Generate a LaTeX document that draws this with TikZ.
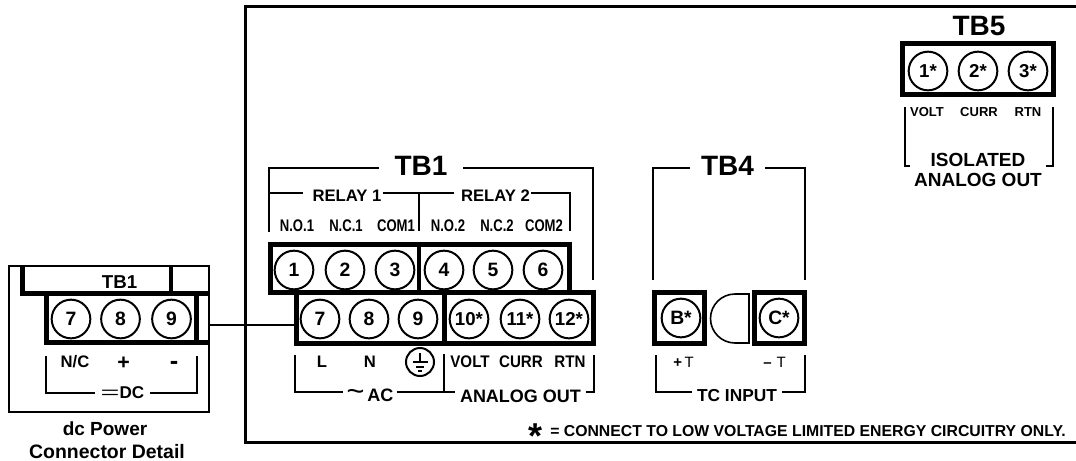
\documentclass[tikz,border=0pt]{standalone}
\usepackage{fontspec}
\setmainfont{Liberation Sans}
\newfontfamily\pinfont[FakeStretch=0.78]{Liberation Sans}
\newfontfamily\endfont[FakeStretch=0.9]{Liberation Sans}
\usepackage{tikz}
\usetikzlibrary{positioning}

\newcommand{\fsz}[1]{\fontsize{#1}{#1}\selectfont\bfseries}

\begin{document}
\begin{tikzpicture}[
        x=0.75pt, y=-0.75pt,
        terminal/.style={draw, circle, line width=1.5pt, minimum size=29pt, inner sep=0pt, font=\fsz{14.5}},
        starred/.style={terminal, font=\fsz{14}},
        blockbox/.style={draw, rectangle, line width=3.75pt, inner sep=0pt, fill=white},
        thickline/.style={line width=3.6pt},
        bracket/.style={line width=1.5pt},
        wire/.style={line width=1.5pt},
        title/.style={font=\fsz{21}, inner sep=0pt, text depth=2.5pt},
        pinlabel/.style={font=\fsz{9.75}, inner sep=0pt},
        relaypin/.style={font=\pinfont\fsz{12.6}, inner sep=0pt},
        endlabel/.style={font=\fsz{12.5}, inner sep=0pt},
        outlabel/.style={font=\endfont\fsz{12.6}, inner sep=0pt},
        groupname/.style={font=\fsz{13.5}, inner sep=0pt}
      ]
        \useasboundingbox (0,0) rectangle (1076,461);

        % instrument frame, open on the right
        \draw[line width=1.6pt] (1076,6.5) -- (245.5,6.5) -- (245.5,442.5) -- (1076,442.5);

        % dc power connector detail
        \node[draw, rectangle, line width=1.9pt, minimum width=150pt, minimum height=109.5pt, inner sep=0pt] (detailbox) at (109,339) {};
        \draw[thickline] (22.5,266) -- (22.5,293.5) -- (209,293.5);
        \draw[thickline] (171,266) -- (171,293.5);
        \draw[thickline] (46.5,293.5) -- (46.5,342.5) -- (209,342.5);
        \draw[thickline] (196.5,293.5) -- (196.5,342.5);
        \node[font=\fsz{14}, inner sep=0pt] (detailtitle) at (119.5,282) {TB1};
        \node[terminal] (detailseven) at (71,319) {7};
        \node[terminal] (detaileight) at (120.5,319) {8};
        \node[terminal] (detailnine) at (171.5,319) {9};
        \node[endlabel] (detailnc) at (75,362) {N/C};
        \node[endlabel, font=\fsz{16}] (detailplus) at (123.5,363) {+};
        \node[endlabel, font=\fsz{19}] (detailminus) at (174,365) {-};
        \node[groupname, font=\fsz{12.8}, minimum width=41.25pt, minimum height=14pt] (dclabel) at (122.5,392.5) {\scalebox{1.9}[1]{\mdseries=}DC};
        \coordinate (dcleft) at (46,356);
        \coordinate (dcright) at (196.5,356);
        \draw[bracket] (dcleft) |- (dclabel.west);
        \draw[bracket] (dclabel.east) -| (dcright);
        \node[font=\fsz{14.25}, inner sep=0pt] (detailname) at (105,429) {dc Power};
        \node[font=\fsz{14.6}, inner sep=0pt] (detailnametwo) at (107,452) {Connector Detail};

        % TB1 upper row
        \node[title, minimum width=63pt] (tbone) at (421,167.5) {TB1};
        \coordinate (tboneleft) at (269,232);
        \coordinate (tboneright) at (593,280);
        \draw[bracket] (tboneleft) |- (tbone.west);
        \draw[bracket] (tbone.east) -| (tboneright);

        \node[font=\fsz{12.5}, inner sep=0.75pt, text height=12.6pt, text depth=0pt] (relayone) at (347,193) {RELAY 1};
        \node[font=\fsz{12.5}, inner sep=0.75pt, text height=12.6pt, text depth=0pt] (relaytwo) at (495.5,193) {RELAY 2};
        \coordinate (relayleft) at (269,193);
        \coordinate (relaymid) at (419,193);
        \coordinate (relaymidlow) at (419,231);
        \coordinate (relayright) at (570,231);
        \draw[bracket, shorten >=6pt] (relayleft) -- (relayone.west);
        \draw[bracket, shorten >=4pt] (relayone.east) -- (relaytwo.west);
        \draw[bracket] (relaymid) -- (relaymidlow);
        \draw[bracket] (relaytwo.east) -| (relayright);

        \node[relaypin] (labelnoone) at (297,226) {N.O.1};
        \node[relaypin] (labelncone) at (346,226) {N.C.1};
        \node[relaypin] (labelcomone) at (396,226) {COM1};
        \node[relaypin] (labelnotwo) at (448,226) {N.O.2};
        \node[relaypin] (labelnctwo) at (497,226) {N.C.2};
        \node[relaypin] (labelcomtwo) at (544,226) {COM2};

        % TB1 lower row, drawn first
        \node[blockbox, minimum width=222.4pt, minimum height=37.9pt] (lowerblock) at (444.75,317.75) {};
        \node[blockbox, minimum width=223.8pt, minimum height=36pt] (upperblock) at (420,268.2) {};
        \draw[thickline] (419,244) -- (419,293);
        \draw[thickline] (444.5,293) -- (444.5,343);

        \node[terminal] (termone) at (294,270) {1};
        \node[terminal] (termtwo) at (345,270) {2};
        \node[terminal] (termthree) at (395,270) {3};
        \node[terminal] (termfour) at (444,270) {4};
        \node[terminal] (termfive) at (493,270) {5};
        \node[terminal] (termsix) at (543,270) {6};

        \node[terminal] (termseven) at (320,319) {7};
        \node[terminal] (termeight) at (369,319) {8};
        \node[terminal] (termnine) at (418,319) {9};
        \node[starred] (termten) at (469,319) {10*};
        \node[starred] (termeleven) at (520,319) {11*};
        \node[starred] (termtwelve) at (569,319) {12*};

        \coordinate (wirey) at (0,325);
        \draw[wire] (detailbox.east |- wirey) -- (lowerblock.west |- wirey);

        \node[endlabel] (labell) at (322,362) {L};
        \node[endlabel] (labeln) at (370,362) {N};
        \node[draw, circle, line width=1.5pt, minimum size=21pt, inner sep=0pt] (groundsym) at (420,362) {};
        \draw[line width=1pt] (420,353) -- (420,362);
        \draw[line width=1pt] (413,362) -- (428,362);
        \draw[line width=1pt] (416,367) -- (424,367);
        \draw[line width=1pt] (418,371) -- (422,371);
        \node[outlabel] (labelvolt) at (470,362) {VOLT};
        \node[outlabel] (labelcurr) at (521,362) {CURR};
        \node[outlabel] (labelrtn) at (570,362) {RTN};

        \node[groupname, minimum width=40.5pt, text height=14.6pt, text depth=0pt] (aclabel) at (370,392) {\scalebox{1.7}{\mdseries\char`\~}\,AC};
        \node[groupname, minimum width=97.5pt, text height=15pt, text depth=0pt] (analoglabel) at (520.5,392) {ANALOG OUT};
        \coordinate (acleft) at (295,355);
        \coordinate (acmid) at (444,354);
        \coordinate (acmidlow) at (444,392);
        \coordinate (analogright) at (594,355);
        \draw[bracket] (acleft) |- (aclabel.west);
        \draw[bracket] (aclabel.east) -- (analoglabel.west);
        \draw[bracket] (acmid) -- (acmidlow);
        \draw[bracket] (analoglabel.east) -| (analogright);

        % TB4
        \node[title, minimum width=56.25pt] (tbfour) at (727.5,167.5) {TB4};
        \coordinate (tbfourleft) at (653,280);
        \coordinate (tbfourright) at (805,280);
        \draw[bracket] (tbfourleft) |- (tbfour.west);
        \draw[bracket] (tbfour.east) -| (tbfourright);

        \node[blockbox, minimum width=37.5pt, minimum height=38pt] (blockb) at (679.5,318) {};
        \node[blockbox, minimum width=37.5pt, minimum height=38pt] (blockc) at (779.5,318) {};
        \node[terminal] (termb) at (681,318) {B*};
        \node[terminal] (termc) at (779,318) {C*};
        \draw[line width=1.2pt] (749,294) -- (735,294) arc[start angle=270, end angle=90, radius=24.5] -- (749,343) -- cycle;

        \node[endlabel, font=\fsz{11.25}] (labelplust) at (683.5,362) {+\,\mdseries T};
        \node[endlabel, font=\fsz{11.25}] (labelminust) at (774.5,362) {–\,\,\mdseries T};
        \node[groupname, minimum width=67.5pt, font=\fsz{13}, text height=13.5pt, text depth=0pt] (tclabel) at (737,392) {TC INPUT};
        \coordinate (tcleft) at (656,355);
        \coordinate (tcright) at (805,355);
        \draw[bracket] (tcleft) |- (tclabel.west);
        \draw[bracket] (tclabel.east) -| (tcright);

        % TB5
        \node[title, text depth=0pt] (tbfive) at (979,26) {TB5};
        \node[blockbox, minimum width=113.25pt, minimum height=38.25pt] (blockfive) at (978,69) {};
        \node[starred] (termfiveone) at (928,71) {1*};
        \node[starred] (termfivetwo) at (978,71) {2*};
        \node[starred] (termfivethree) at (1028,71) {3*};
        \node[pinlabel] (labelvoltfive) at (927,112) {VOLT};
        \node[pinlabel] (labelcurrfive) at (979,112) {CURR};
        \node[pinlabel] (labelrtnfive) at (1028,112) {RTN};
        \draw[bracket] (905,107) -- (905,166) -- (910,166);
        \draw[bracket] (1053,107) -- (1053,166) -- (1046,166);
        \node[font=\fsz{14.25}, inner sep=0pt] (isolated) at (978,160) {ISOLATED};
        \node[font=\fsz{14.25}, inner sep=0pt] (isolatedtwo) at (978,180) {ANALOG OUT};

        % footnote
        \node[font=\fsz{27}, anchor=base, inner sep=0pt] (starmark) at (536,448) {*};
        \node[font=\fsz{11.85}, anchor=west, inner sep=0pt] (starnote) at (550,431) {= CONNECT TO LOW VOLTAGE LIMITED ENERGY CIRCUITRY ONLY.};
      \end{tikzpicture}
\end{document}
